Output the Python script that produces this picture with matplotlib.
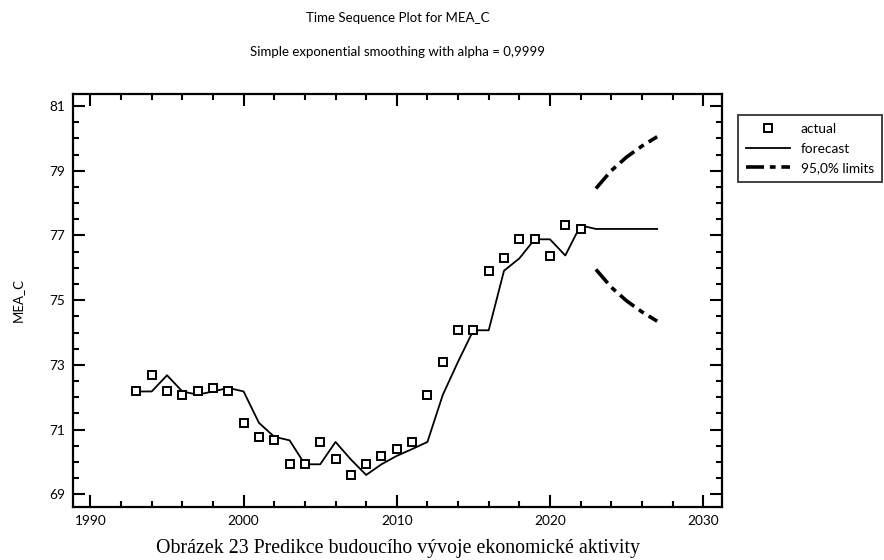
import matplotlib
matplotlib.use("Agg")
import matplotlib.pyplot as plt
from matplotlib.ticker import MultipleLocator, FixedLocator
from matplotlib.lines import Line2D

years_actual = list(range(1993, 2023))
actual = [72.18, 72.68, 72.18, 72.08, 72.18, 72.29, 72.18, 71.21, 70.78, 70.67,
          69.93, 69.93, 70.62, 70.08, 69.60, 69.93, 70.19, 70.40, 70.62, 72.07,
          73.10, 74.07, 74.07, 75.91, 76.29, 76.88, 76.88, 76.38, 77.31, 77.20]

years_forecast = list(range(1993, 2028))
forecast = [72.18, 72.18, 72.68, 72.18, 72.08, 72.18, 72.29, 72.18, 71.21, 70.78,
            70.67, 69.93, 69.93, 70.62, 70.08, 69.60, 69.93, 70.19, 70.40, 70.62,
            72.07, 73.10, 74.07, 74.07, 75.91, 76.29, 76.88, 76.88, 76.38, 77.31,
            77.20, 77.20, 77.20, 77.20, 77.20]

years_limits = [2023, 2024, 2025, 2026, 2027]
upper = [78.45, 79.00, 79.42, 79.76, 80.05]
lower = [75.95, 75.40, 74.98, 74.64, 74.35]

y_ticks = [69, 71, 73, 75, 77, 79, 81]
x_ticks = [1990, 2000, 2010, 2020, 2030]

title = "Time Sequence Plot for MEA_C"
subtitle = "Simple exponential smoothing with alpha = 0,9999"
ylabel = "MEA_C"
caption = "Obrázek 23 Predikce budoucího vývoje ekonomické aktivity"
legend_labels = ["actual", "forecast", "95,0% limits"]

plt.rcParams['font.family'] = ['Lato', 'DejaVu Sans']

fig = plt.figure(figsize=(8.84, 5.6), dpi=100)
ax = fig.add_axes([0.0829, 0.0952, 0.7333, 0.7364])

dash = (0, (5, 1.6, 1.6, 1.6))
ax.plot(years_forecast, forecast, color='black', lw=1.3, zorder=3)
ax.plot(years_limits, upper, color='black', lw=2.6, linestyle=dash, zorder=3)
ax.plot(years_limits, lower, color='black', lw=2.6, linestyle=dash, zorder=3)
ax.plot(years_actual, actual, linestyle='none', marker='s', markersize=6,
        markerfacecolor='white', markeredgecolor='black', markeredgewidth=1.4, zorder=4)

ax.set_xlim(1988.88, 2031.2)
ax.set_ylim(68.62, 81.36)
ax.xaxis.set_major_locator(FixedLocator(x_ticks))
ax.xaxis.set_minor_locator(MultipleLocator(2))
ax.yaxis.set_major_locator(FixedLocator(y_ticks))
ax.yaxis.set_minor_locator(MultipleLocator(0.5))
ax.tick_params(which='both', direction='in', top=True, right=True, width=1.5, labelsize=9.8)
ax.tick_params(which='major', length=8.5, pad=6)
ax.tick_params(which='minor', length=4.3)
for s in ax.spines.values():
    s.set_linewidth(1.6)
ax.set_ylabel(ylabel, fontsize=9.5, labelpad=18)

fig.text(0.4497, 1 - 18 / 560, title, ha='center', va='center', fontsize=9.5)
fig.text(0.4497, 1 - 52 / 560, subtitle, ha='center', va='center', fontsize=9.5)
fig.text(0.4497, 1 - 548 / 560, caption, ha='center', va='center', fontsize=14.3,
         family=['Liberation Serif', 'DejaVu Serif'])

handles = [
    Line2D([], [], linestyle='none', marker='s', markersize=5.5, markerfacecolor='white',
           markeredgecolor='black', markeredgewidth=1.4),
    Line2D([], [], color='black', lw=1.3),
    Line2D([], [], color='black', lw=2.6, linestyle=dash),
]
leg = fig.legend(handles, legend_labels, loc='upper left',
                 bbox_to_anchor=(738 / 884, 1 - 115 / 560), fontsize=9.8,
                 frameon=True, fancybox=False, edgecolor='black', borderpad=0.6,
                 handlelength=3.2, labelspacing=0.55, borderaxespad=0)
leg.get_frame().set_linewidth(1.3)

fig.savefig("out.png", dpi=100)
